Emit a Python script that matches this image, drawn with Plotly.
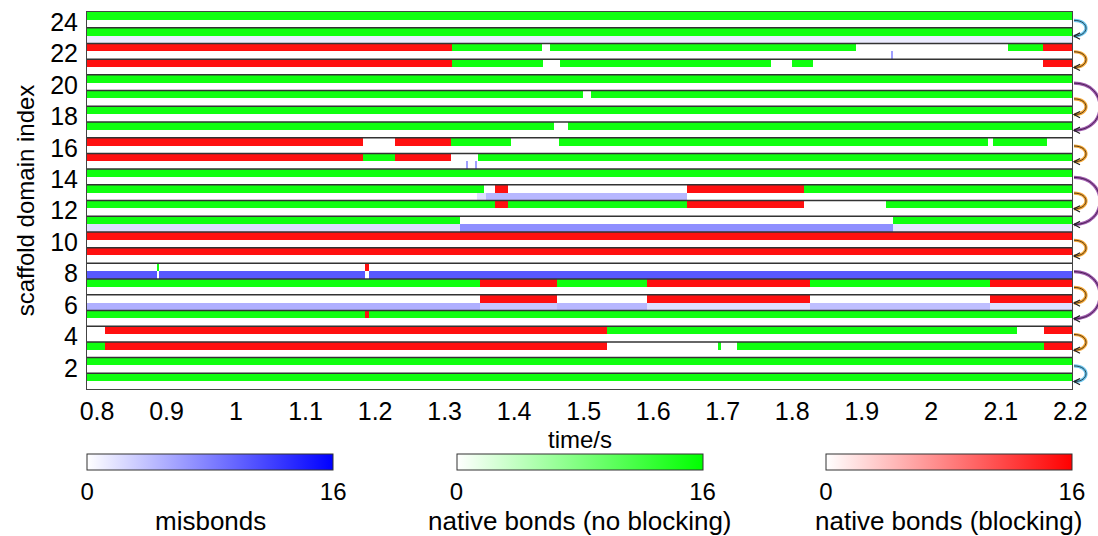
import numpy as np
import plotly.graph_objects as go

# ---------------- data ----------------
T_START, T_END = 0.7856, 2.2024

X_TICKS = [0.8, 0.9, 1.0, 1.1, 1.2, 1.3, 1.4, 1.5, 1.6, 1.7, 1.8, 1.9, 2.0, 2.1, 2.2]
X_TICK_TEXT = ["0.8", "0.9", "1", "1.1", "1.2", "1.3", "1.4", "1.5", "1.6", "1.7",
               "1.8", "1.9", "2", "2.1", "2.2"]
Y_TICKS = [2, 4, 6, 8, 10, 12, 14, 16, 18, 20, 22, 24]
DOMAINS = list(range(1, 25))
CB_TICKS = [0, 16]

# native bonds, no blocking: (domain, start time, end time, number of bonds)
NATIVE_FREE = [
    (24, T_START, T_END, 15),
    (23, T_START, T_END, 15),
    (22, 1.311, 1.440, 15), (22, 1.452, 1.891, 15), (22, 2.111, 2.161, 15),
    (21, 1.311, 1.442, 15), (21, 1.466, 1.770, 15), (21, 1.800, 1.830, 15),
    (20, T_START, T_END, 15),
    (19, T_START, 1.499, 15), (19, 1.511, T_END, 15),
    (18, T_START, T_END, 15),
    (17, T_START, 1.458, 15), (17, 1.478, T_END, 15),
    (16, 1.309, 1.395, 15), (16, 1.464, 2.081, 15), (16, 2.089, 2.167, 15),
    (15, 1.183, 1.228, 15), (15, 1.348, T_END, 15),
    (14, T_START, T_END, 15),
    (13, T_START, 1.356, 15), (13, 1.817, T_END, 15),
    (12, T_START, 1.372, 15), (12, 1.391, 1.649, 15), (12, 1.935, T_END, 15),
    (11, T_START, 1.322, 15), (11, 1.945, T_END, 15),
    (8, 0.886, 0.889, 15),
    (7, T_START, 1.351, 15), (7, 1.461, 1.591, 15), (7, 1.825, 2.084, 15),
    (5, T_START, 1.185, 15), (5, 1.191, T_END, 15),
    (4, 1.533, 2.123, 15),
    (3, T_START, 0.812, 15), (3, 1.693, 1.697, 15), (3, 1.721, 2.162, 15),
    (2, T_START, T_END, 15),
    (1, T_START, T_END, 15),
]

# native bonds, blocking
NATIVE_BLOCKED = [
    (22, T_START, 1.311, 15), (22, 2.161, T_END, 15),
    (21, T_START, 1.311, 15), (21, 2.160, T_END, 15),
    (16, T_START, 1.183, 15), (16, 1.228, 1.309, 15),
    (15, T_START, 1.183, 15), (15, 1.228, 1.309, 15),
    (13, 1.372, 1.391, 15), (13, 1.649, 1.817, 15),
    (12, 1.372, 1.391, 15), (12, 1.649, 1.817, 15),
    (10, T_START, T_END, 15),
    (9, T_START, T_END, 15),
    (8, 1.185, 1.191, 15),
    (7, 1.351, 1.461, 15), (7, 1.591, 1.825, 15), (7, 2.084, T_END, 15),
    (6, 1.351, 1.461, 15), (6, 1.591, 1.825, 15), (6, 2.084, T_END, 15),
    (5, 1.185, 1.191, 15),
    (4, 0.812, 1.533, 15), (4, 2.162, T_END, 15),
    (3, 0.812, 1.533, 15), (3, 2.162, T_END, 15),
]

# misbonds
MISBONDS = [
    (23, T_START, T_END, 1.2),
    (22, 1.942, 1.945, 6),
    (15, 1.331, 1.334, 6), (15, 1.343, 1.346, 6),
    (13, 1.347, 1.359, 2), (13, 1.359, 1.649, 4.5),
    (11, T_START, 1.322, 2), (11, 1.322, 1.945, 7), (11, 1.945, T_END, 1.5),
    (8, T_START, 0.886, 10.5), (8, 0.889, 1.185, 10.5), (8, 1.191, T_END, 10.5),
    (6, T_START, 1.351, 5), (6, 1.351, 1.461, 3.5), (6, 1.461, 1.591, 4.5),
    (6, 1.591, 1.825, 2), (6, 1.825, 2.084, 4), (6, 2.084, T_END, 2),
]

# transitions drawn as arcs on the right: (from domain, to domain, colour group)
ARCS = [
    (24, 23, "blue"), (22, 21, "orange"), (20, 17, "purple"), (19, 18, "orange"),
    (16, 15, "orange"), (14, 11, "purple"), (13, 12, "orange"), (10, 9, "orange"),
    (8, 5, "purple"), (7, 6, "orange"), (4, 3, "orange"), (2, 1, "blue"),
]

# ---------------- build heatmap grids ----------------
FONT = "Liberation Sans, Arial, Helvetica, sans-serif"
all_segs = NATIVE_FREE + NATIVE_BLOCKED + MISBONDS
edges = np.array(sorted(set([T_START, T_END] + [s[1] for s in all_segs] + [s[2] for s in all_segs])))
mids = (edges[:-1] + edges[1:]) / 2
n_rows = 2 * len(DOMAINS)
y_edges = [0.65 + 0.5 * k for k in range(n_rows + 1)]  # misbond row then native row per domain


def grid(segments, native):
    z = np.full((n_rows, len(mids)), np.nan)
    for d, a, b, v in segments:
        row = 2 * (d - 1) + (1 if native else 0)
        mask = (mids > a) & (mids < b)
        z[row, mask] = v
    return z


def cbar(cx):
    return dict(orientation="h", x=cx, xanchor="center", y=-0.172, yanchor="top",
                len=246, lenmode="pixels", thickness=16, thicknessmode="pixels",
                xpad=0, ypad=0, outlinecolor="#333333", outlinewidth=1,
                tickvals=CB_TICKS, ticks="", tickfont=dict(size=24, family=FONT, color="black"))


fig = go.Figure()
specs = [
    (MISBONDS, False, "#0000ff", 0.125, "misbonds"),
    (NATIVE_FREE, True, "#00ff00", 0.5, "native bonds (no blocking)"),
    (NATIVE_BLOCKED, True, "#ff0000", 0.875, "native bonds (blocking)"),
]
annotations = [dict(text="time/s", xref="paper", yref="paper", x=0.5, y=-0.133,
                    xanchor="center", yanchor="middle", showarrow=False,
                    font=dict(size=24, family=FONT, color="black"))]
for segs, native, col, cx, title in specs:
    fig.add_trace(go.Heatmap(
        x=edges, y=y_edges, z=grid(segs, native),
        zmin=CB_TICKS[0], zmax=CB_TICKS[-1], colorscale=[[0, "#ffffff"], [1, col]],
        hoverinfo="skip", colorbar=cbar(cx)))
    annotations.append(dict(text=title, xref="paper", yref="paper", x=cx, y=-0.350,
                            xanchor="center", yanchor="middle", showarrow=False,
                            font=dict(size=26, family=FONT, color="black")))

shapes = []
for d in DOMAINS[:-1]:
    shapes.append(dict(type="line", xref="paper", yref="y", x0=0, x1=1, y0=d + 0.65, y1=d + 0.65,
                       line=dict(color="#333333", width=1.5), layer="above"))

ARC_COLORS = {"blue": ("#6cc4ec", "#1d3a4a"), "orange": ("#f4a838", "#4a3010"),
              "purple": ("#a05aae", "#3a1a44")}
for a, b, grp in ARCS:
    halo, core = ARC_COLORS[grp]
    y1, y2 = a + 0.12, b + 0.12
    bulge = 12 if a - b == 1 else 26
    c = bulge * 4 / 3
    x0 = 2
    path = f"M{x0},{y1} C{x0 + c},{y1} {x0 + c},{y2} {x0},{y2}"
    for colr, w in ((halo, 3.2), (core, 0.9)):
        shapes.append(dict(type="path", xref="paper", yref="y", xsizemode="pixel", xanchor=1,
                           path=path, line=dict(color=colr, width=w), layer="above"))
    head = f"M{x0 + 6},{y2 + 0.2} L{x0},{y2} L{x0 + 6},{y2 - 0.2}"
    shapes.append(dict(type="path", xref="paper", yref="y", xsizemode="pixel", xanchor=1,
                       path=head, line=dict(color="#222222", width=1.2), layer="above"))

fig.update_layout(
    width=1098, height=536,
    margin=dict(l=87, r=26, t=12, b=147, pad=0, autoexpand=False),
    paper_bgcolor="white", plot_bgcolor="white",
    font=dict(family=FONT, size=24, color="black"),
    shapes=shapes, annotations=annotations,
    xaxis=dict(range=[T_START, T_END], tickvals=X_TICKS, ticktext=X_TICK_TEXT,
               showgrid=False, zeroline=False, showline=True, mirror=True,
               linecolor="#444444", linewidth=1, ticks="", ticklabelstandoff=0,
               tickfont=dict(size=25)),
    yaxis=dict(range=[0.65, 24.65], tickvals=Y_TICKS, showgrid=False, zeroline=False,
               showline=True, mirror=True, linecolor="#444444", linewidth=1, ticks="",
               tickfont=dict(size=25), ticklabelstandoff=3,
               title=dict(text="scaffold domain index", font=dict(size=24), standoff=8)),
)

fig.write_html("out.html")
